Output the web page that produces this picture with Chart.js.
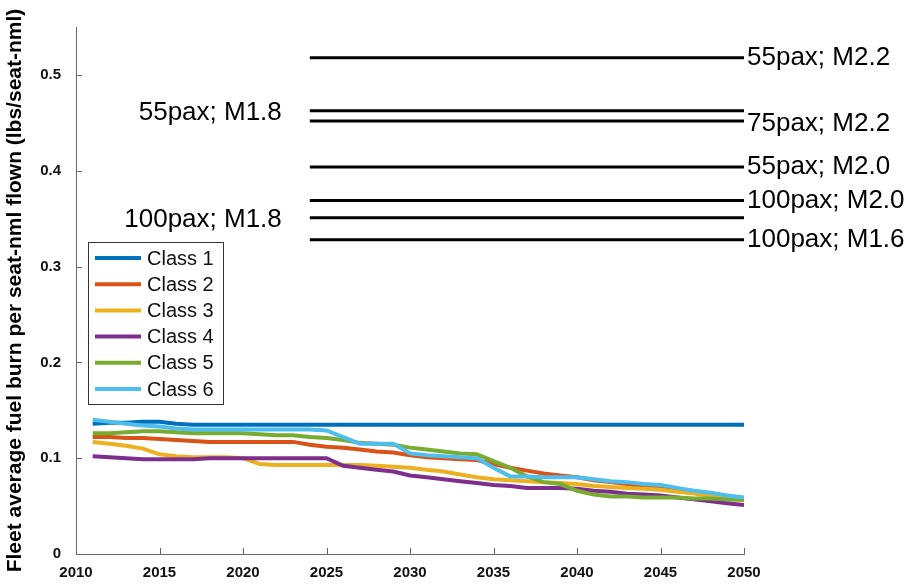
<!DOCTYPE html>
<html>
<head>
<meta charset="utf-8">
<script src="https://cdn.jsdelivr.net/npm/chart.js@4.4.1/dist/chart.umd.min.js"></script>
<style>
  html, body { margin: 0; padding: 0; background: #fff; }
  #wrap { width: 914px; height: 584px; }
</style>
</head>
<body>
<div id="wrap"><canvas id="fuelBurn"></canvas></div>
<script>
const years = [];
for (let y = 2011; y <= 2050; y++) years.push(y);

const class1 = [0.136, 0.137, 0.137, 0.138, 0.138, 0.136, 0.135, 0.135, 0.135, 0.135,
                0.135, 0.135, 0.135, 0.135, 0.135, 0.135, 0.135, 0.135, 0.135, 0.135,
                0.135, 0.135, 0.135, 0.135, 0.135, 0.135, 0.135, 0.135, 0.135, 0.135,
                0.135, 0.135, 0.135, 0.135, 0.135, 0.135, 0.135, 0.135, 0.135, 0.135];
const class2 = [0.122, 0.122, 0.121, 0.121, 0.120, 0.119, 0.118, 0.117, 0.117, 0.117,
                0.117, 0.117, 0.117, 0.114, 0.112, 0.111, 0.109, 0.107, 0.106, 0.103,
                0.101, 0.100, 0.099, 0.098, 0.094, 0.090, 0.087, 0.084, 0.082, 0.080,
                0.077, 0.075, 0.073, 0.070, 0.068, 0.066, 0.064, 0.061, 0.059, 0.057];
const class3 = [0.117, 0.115, 0.113, 0.110, 0.104, 0.102, 0.101, 0.101, 0.101, 0.100,
                0.094, 0.093, 0.093, 0.093, 0.093, 0.093, 0.093, 0.092, 0.091, 0.090,
                0.088, 0.086, 0.083, 0.080, 0.078, 0.077, 0.076, 0.075, 0.074, 0.073,
                0.071, 0.070, 0.069, 0.068, 0.067, 0.065, 0.063, 0.061, 0.058, 0.056];
const class4 = [0.102, 0.101, 0.100, 0.099, 0.099, 0.099, 0.099, 0.100, 0.100, 0.100,
                0.100, 0.100, 0.100, 0.100, 0.100, 0.092, 0.090, 0.088, 0.086, 0.082,
                0.080, 0.078, 0.076, 0.074, 0.072, 0.071, 0.069, 0.069, 0.069, 0.068,
                0.066, 0.065, 0.063, 0.062, 0.061, 0.059, 0.057, 0.055, 0.053, 0.051];
const class5 = [0.126, 0.126, 0.127, 0.128, 0.128, 0.127, 0.126, 0.126, 0.126, 0.126,
                0.125, 0.124, 0.124, 0.122, 0.121, 0.119, 0.116, 0.115, 0.114, 0.111,
                0.109, 0.107, 0.105, 0.104, 0.097, 0.090, 0.081, 0.075, 0.073, 0.066,
                0.062, 0.060, 0.060, 0.059, 0.059, 0.059, 0.058, 0.058, 0.057, 0.057];
const class6 = [0.140, 0.138, 0.136, 0.134, 0.133, 0.131, 0.130, 0.130, 0.130, 0.130,
                0.130, 0.130, 0.130, 0.130, 0.129, 0.122, 0.115, 0.115, 0.115, 0.105,
                0.103, 0.102, 0.101, 0.100, 0.090, 0.081, 0.081, 0.080, 0.080, 0.080,
                0.078, 0.076, 0.075, 0.073, 0.072, 0.069, 0.066, 0.064, 0.061, 0.059];

const classNames = ['Class 1', 'Class 2', 'Class 3', 'Class 4', 'Class 5', 'Class 6'];
const classColors = ['#0072BD', '#D95319', '#EDB120', '#7E2F8E', '#77AC30', '#4DBEEE'];
const classSeries = [class1, class2, class3, class4, class5, class6];

// reference aircraft levels
const refLabels = ['55pax; M2.2', '55pax; M1.8', '75pax; M2.2', '55pax; M2.0',
                   '100pax; M2.0', '100pax; M1.8', '100pax; M1.6'];
const refValues = [0.518, 0.4625, 0.452, 0.404, 0.369, 0.351, 0.328];
const refSide = ['right', 'left', 'right', 'right', 'right', 'left', 'right'];
const refStart = 2024;
const refEnd = 2050;

const xTicks = [2010, 2015, 2020, 2025, 2030, 2035, 2040, 2045, 2050];
const yTicks = [0, 0.1, 0.2, 0.3, 0.4, 0.5];

const datasets = [];
classSeries.forEach((vals, i) => {
    datasets.push({
        label: classNames[i],
        data: vals.map((v, k) => ({ x: years[k], y: v })),
        borderColor: classColors[i],
        borderWidth: 4,
        pointRadius: 0,
        tension: 0,
        order: 10 - i
    });
});
refValues.forEach((v, i) => {
    datasets.push({
        label: refLabels[i],
        data: [{ x: refStart, y: v }, { x: refEnd, y: v }],
        borderColor: '#000',
        borderWidth: 3,
        pointRadius: 0,
        order: 20
    });
});

const tickFont = { family: '"Liberation Sans", Arial', size: 15, weight: 'bold' };

const extras = {
    id: 'extras',
    afterDatasetsDraw(chart) {
        const ctx = chart.ctx;
        const xs = chart.scales.x, ys = chart.scales.y;
        const area = chart.chartArea;
        ctx.save();
        // inward ticks
        ctx.strokeStyle = '#666';
        ctx.lineWidth = 1;
        xTicks.forEach(t => {
            const px = Math.round(xs.getPixelForValue(t)) + 0.5;
            ctx.beginPath();
            ctx.moveTo(px, area.bottom);
            ctx.lineTo(px, area.bottom - 6);
            ctx.stroke();
        });
        yTicks.forEach(t => {
            const py = Math.round(ys.getPixelForValue(t)) + 0.5;
            ctx.beginPath();
            ctx.moveTo(area.left, py);
            ctx.lineTo(area.left + 6, py);
            ctx.stroke();
        });

        // labels of reference lines
        ctx.fillStyle = '#000';
        ctx.font = '26px "Liberation Sans", Arial';
        ctx.textBaseline = 'middle';
        refValues.forEach((v, i) => {
            const py = ys.getPixelForValue(v);
            if (refSide[i] === 'right') {
                ctx.textAlign = 'left';
                const off = refLabels[i] === '75pax; M2.2' ? 3 : 0;
                ctx.fillText(refLabels[i], xs.getPixelForValue(refEnd) + 3, py + off);
            } else {
                ctx.textAlign = 'right';
                ctx.fillText(refLabels[i], xs.getPixelForValue(refStart) - 28, py + 2);
            }
        });

        // legend box
        const bx = 88, by = 242, bw = 135, bh = 162;
        ctx.fillStyle = '#fff';
        ctx.fillRect(bx, by, bw, bh);
        ctx.strokeStyle = '#333';
        ctx.lineWidth = 1;
        ctx.strokeRect(bx + 0.5, by + 0.5, bw, bh);
        ctx.font = '20px "Liberation Sans", Arial';
        ctx.textAlign = 'left';
        ctx.textBaseline = 'middle';
        classNames.forEach((name, i) => {
            const ry = by + 16 + i * 26.2;
            ctx.strokeStyle = classColors[i];
            ctx.lineWidth = 4;
            ctx.beginPath();
            ctx.moveTo(bx + 7, ry);
            ctx.lineTo(bx + 53, ry);
            ctx.stroke();
            ctx.fillStyle = '#111';
            ctx.fillText(name, bx + 59, ry + 1);
        });
        ctx.restore();
    }
};

new Chart(document.getElementById('fuelBurn').getContext('2d'), {
    type: 'line',
    data: { datasets: datasets },
    options: {
        responsive: true,
        maintainAspectRatio: false,
        animation: false,
        layout: { padding: { left: 0, top: 27, right: 170, bottom: 0 } },
        plugins: {
            legend: { display: false },
            tooltip: { enabled: false }
        },
        scales: {
            x: {
                type: 'linear',
                min: 2010,
                max: 2050,
                afterBuildTicks: s => { s.ticks = xTicks.map(v => ({ value: v })); },
                afterFit: s => { s.height = 30; },
                grid: { display: false },
                border: { display: true, color: '#666', width: 1 },
                ticks: { color: '#111', font: tickFont, padding: 2, maxRotation: 0, callback: v => String(v) }
            },
            y: {
                min: 0,
                max: 0.55,
                afterBuildTicks: s => { s.ticks = yTicks.map(v => ({ value: v })); },
                afterFit: s => { s.width = 76; },
                grid: { display: false },
                border: { display: true, color: '#666', width: 1 },
                ticks: { color: '#111', font: tickFont, padding: 7, callback: v => String(v) },
                title: {
                    display: true,
                    text: 'Fleet average fuel burn per seat-nml flown (lbs/seat-nml)',
                    color: '#000',
                    font: { family: '"Liberation Sans", Arial', size: 21, weight: 'bold' },
                    padding: { top: 3, bottom: 0 }
                }
            }
        }
    },
    plugins: [extras]
});
</script>
</body>
</html>
